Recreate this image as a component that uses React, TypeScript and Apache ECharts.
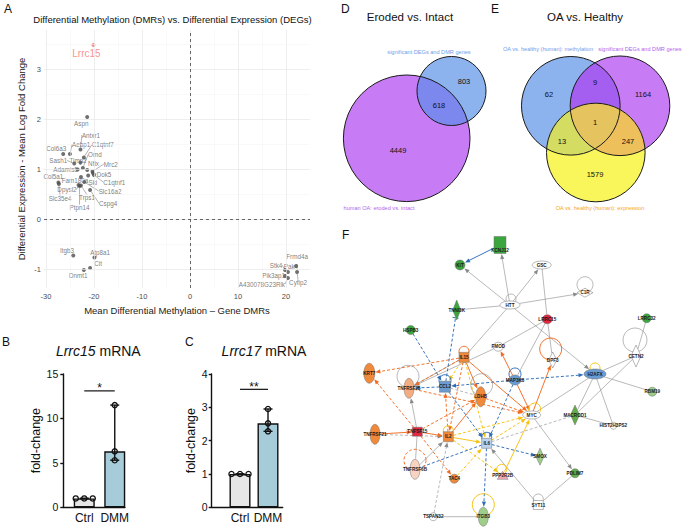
import React, { useEffect, useRef } from 'react';
import * as echarts from 'echarts';

const FONT = '"Liberation Sans", Arial, Helvetica, sans-serif';

// ================= Panel A: DMR vs DEG scatter =================
const dmrGenes = ['Lrrc15', 'Aspn', 'Antxr1', 'Aebp1', 'Col6a3', 'C1qtnf7', 'Sash1', 'Timp2', 'Omd', 'Adamts5', 'Nfix', 'Mrc2', 'Dok5', 'C1qtnf1', 'Ski', 'Col5a1', 'Fam180a', 'Dpysl2', 'Slc35e4', 'Slc16a2', 'Trps1', 'Cspg4', 'Ptpn14', 'Itgb3', 'Atp8a1', 'Cit', 'Dnmt1', 'Stk4', 'Frmd4a', 'Pak4', 'Cyfip2', 'Pik3ap1', 'A430078G23Rik'];
const dmrMeanMethylation = [-20.1, -21.4, -22.8, -25.0, -26.4, -22.1, -24.1, -22.8, -22.3, -23.4, -21.4, -20.3, -20.2, -20.0, -21.2, -27.4, -22.7, -23.2, -27.3, -22.0, -22.7, -20.8, -23.0, -24.3, -19.9, -20.8, -22.1, 19.8, 22.1, 20.4, 22.3, 19.8, 20.4];
const degMeanLogFC = [3.49, 2.05, 1.40, 1.31, 1.31, 1.24, 1.12, 1.14, 1.03, 1.00, 0.99, 0.96, 0.93, 0.89, 0.88, 0.74, 0.85, 0.69, 0.71, 0.75, 0.68, 0.59, 0.67, -0.72, -0.76, -0.97, -1.01, -1.01, -0.93, -1.05, -1.05, -1.13, -1.17];
const highlightedGene = 'Lrrc15';
const xTicksA = [-30, -20, -10, 0, 10, 20];
const yTicksA = [-1, 0, 1, 2, 3];
const xMinorA = [-25, -15, -5, 5, 15];
const yMinorA = [-0.5, 0.5, 1.5, 2.5, 3.5];
// label displacement (repel-like layout, in px)
const labelShiftA = [[-7, 8], [-6, 6], [10.5, -14.5], [11.3, -9.7], [-7, -5.5], [19, -12.8], [-16, -3], [-2.5, -2.5], [12, -13.3], [-12, 0], [6.3, -6.7], [18.3, -7.5], [11, 1], [20.3, 7], [4.7, 6.5], [-5, -6.5], [-6, 3.5], [-11.6, 4.5], [1.2, 14.7], [25.7, 9], [6, 12.2], [18, 13.3], [0, 21.7], [-6.3, -4.6], [5.7, -5], [8, -4.4], [-5.7, 5], [-9, -4.7], [1, -9.3], [3, -5.3], [1, 10.7], [-11.3, -1], [-26, 6]];

// ================= Panels B, C: qPCR =================
const qpcrGroups = ['Ctrl', 'DMM'];
const lrrc15Ctrl = [1.0, 1.0, 1.0];
const lrrc15DMM = [11.5, 6.3, 5.3];
const lrrc15SigMark = '*';
const lrrc15SigLevel = 13.1;
const lrrc17Ctrl = [1.0, 1.0, 1.0];
const lrrc17DMM = [2.95, 2.52, 2.28];
const lrrc17SigMark = '**';
const lrrc17SigLevel = 3.54;

// ================= Panel D: Venn =================
const vennDSets = ['human OA: eroded vs. intact', 'significant DEGs and DMR genes'];
const vennDRegions = [[0], [1], [0, 1]];
const vennDCounts = [4449, 803, 618];
// layout
const vennDCircles = [[76.7, 108.3, 63.3], [121.5, 61, 34.5]];
const vennDCountPos = [[68, 120], [134, 51], [109, 75]];
const vennDSetPos = [[49, 178], [99, 22]];

// ================= Panel E: Venn =================
const vennESets = ['OA vs. healthy (human): methylation', 'significant DEGs and DMR genes', 'OA vs. healthy (human): expression'];
const vennERegions = [[0], [1], [2], [0, 1], [0, 2], [1, 2], [0, 1, 2]];
const vennECounts = [62, 1164, 1579, 9, 13, 247, 1];
const vennECircles = [[70.8, 75.8, 49.3], [120, 75.8, 49.8], [95.8, 122.5, 49.3]];
const vennECountPos = [[49, 64], [143, 64], [95, 144], [95, 52], [62, 111], [128, 111], [95, 92]];
const vennESetPos = [[48, 19], [140, 19], [100, 178]];

// ================= Panel F: network =================
const netNodes = ['KCNJ12', 'KIT', 'GSC', 'C1R', 'HTT', 'TNNI3K', 'LRRC15', 'LRRC32', 'HSPB3', 'FMOD', 'IL15', 'CETN2', 'DPF3', 'KRT7', 'H2AFX', 'MAP3K8', 'TNFRSF25', 'CCL2', 'LDHB', 'RBM19', 'MYC', 'MACROD1', 'HIST2H3PS2', 'TNFRSF21', 'TNFSF15', 'IL2', 'IL6', 'SMOX', 'PDLIM7', 'TNFRSF6B', 'TAC4', 'PPP2R2B', 'SYT11', 'TSPAN32', 'ITGB3'];
const netNodeX = [170, 130, 211.7, 255, 180, 126.7, 217.3, 316.7, 80.7, 168.3, 134, 306, 222.7, 39.3, 265, 185, 79, 115, 150.7, 322.3, 201.7, 245, 283.3, 45, 87.3, 118.3, 156.7, 210, 245, 85, 124.3, 172.7, 208.3, 103.3, 153.3];
const netNodeY = [13, 33, 33, 60.7, 73, 78, 87.3, 86.3, 98, 114.7, 125.3, 124, 128, 141.3, 142, 148, 156.3, 154.7, 164.7, 159.7, 183, 183, 193.7, 202.3, 199.7, 204.7, 211.3, 224.7, 241.3, 237.3, 246.7, 243.3, 273, 284.7, 284.7];
const netNodeShape = ['rect', 'ellipse', 'ellipse', 'diamond', 'ellipse', 'diamond', 'ellipse', 'ellipse', 'ellipse', 'ellipse', 'rect', 'diamond', 'diamond', 'ellipse', 'ellipse', 'ellipse', 'ellipse', 'rect', 'ellipse', 'ellipse', 'ellipse', 'diamond', 'ellipse', 'ellipse', 'rect', 'rect', 'rect', 'diamond', 'ellipse', 'ellipse', 'ellipse', 'triangle', 'rect', 'ellipse', 'ellipse'];
const netNodeTone = ['green', 'green', 'none', 'none', 'none', 'green', 'red', 'green', 'green', 'none', 'orange', 'none', 'none', 'orange', 'blue', 'blue', 'lorange', 'blue', 'orange', 'lgreen', 'none', 'mgreen', 'none', 'orange', 'red', 'orange', 'lblue', 'lgreen', 'mgreen', 'peach', 'orange', 'pink', 'none', 'none', 'lgreen'];
const netNodeW = [12, 10, 19, 16, 20, 8, 10, 9, 9, 10, 10, 10, 8, 11, 22, 12, 10, 11, 10, 9, 18, 9, 7, 10, 10, 10, 10, 8, 9, 10, 9, 11, 10, 8, 10];
const netNodeH = [17, 10, 8, 9, 8, 20, 9, 9, 9, 9, 10, 22, 16, 20, 10, 10, 20, 11, 20, 9, 8, 20, 7, 20, 9, 10, 10, 17, 9, 20, 9, 8, 9, 8, 19];
const netEdges = [
  ['KCNJ12', 'KIT', 'blue', 0, 'arrow'], ['HTT', 'KCNJ12', 'gray', 0, 'arrow'], ['HTT', 'KIT', 'gray', 0, 'arrow'],
  ['HTT', 'GSC', 'gray', 0, 'arrow'], ['HTT', 'C1R', 'gray', 0, 'arrow'], ['HTT', 'TNNI3K', 'gray', 0, 'none'],
  ['HTT', 'IL15', 'gray', 0, 'none'], ['HTT', 'H2AFX', 'gray', 0, 'arrow'], ['GSC', 'LRRC15', 'gray', 0, 'none'],
  ['LRRC15', 'FMOD', 'gray', 0, 'none'], ['LRRC15', 'DPF3', 'gray', 0, 'none'], ['LRRC15', 'MAP3K8', 'gray', 0, 'none'],
  ['FMOD', 'TNFRSF25', 'gray', 0, 'arrow'], ['LRRC32', 'CETN2', 'gray', 0, 'none'], ['CETN2', 'H2AFX', 'gray', 0, 'none'],
  ['CETN2', 'MACROD1', 'gray', 0, 'none'], ['H2AFX', 'RBM19', 'gray', 0, 'none'], ['H2AFX', 'MACROD1', 'gray', 0, 'none'],
  ['H2AFX', 'HIST2H3PS2', 'gray', 0, 'none'], ['H2AFX', 'MYC', 'gray', 0, 'none'], ['MACROD1', 'HIST2H3PS2', 'gray', 0, 'none'],
  ['IL6', 'MACROD1', 'gray', 1, 'none'], ['MYC', 'PDLIM7', 'gray', 0, 'arrow'], ['PDLIM7', 'SYT11', 'gray', 0, 'none'],
  ['SYT11', 'IL6', 'gray', 0, 'arrow'], ['TSPAN32', 'ITGB3', 'gray', 0, 'none'], ['TSPAN32', 'IL2', 'gray', 1, 'arrow'],
  ['TNFRSF21', 'IL2', 'gray', 1, 'arrow'], ['TNFRSF6B', 'IL2', 'gray', 0, 'arrow'], ['TNFSF15', 'TNFRSF25', 'gray', 0, 'arrow'],
  ['TNFSF15', 'TNFRSF6B', 'gray', 0, 'none'], ['CCL2', 'LDHB', 'gray', 1, 'none'], ['TNFRSF25', 'IL15', 'gray', 0, 'none'],
  ['IL15', 'KRT7', 'orange', 1, 'arrow'], ['IL15', 'LDHB', 'orange', 0, 'arrow'], ['IL15', 'IL2', 'orange', 1, 'arrow'],
  ['IL15', 'TNFRSF25', 'orange', 1, 'arrow'], ['IL15', 'MYC', 'orange', 0, 'arrow'], ['MAP3K8', 'FMOD', 'orange', 0, 'arrow'],
  ['MAP3K8', 'MYC', 'orange', 0, 'arrow'], ['MYC', 'DPF3', 'orange', 0, 'arrow'], ['TNFSF15', 'KRT7', 'orange', 1, 'arrow'],
  ['TNFRSF21', 'TNFSF15', 'orange', 0, 'arrow'], ['TNFSF15', 'IL2', 'orange', 0, 'arrow'], ['TNFSF15', 'LDHB', 'orange', 1, 'arrow'],
  ['TNFSF15', 'TAC4', 'orange', 1, 'arrow'], ['IL2', 'LDHB', 'orange', 0, 'arrow'], ['IL2', 'CCL2', 'orange', 1, 'arrow'],
  ['TNFRSF25', 'MYC', 'orange', 1, 'arrow'], ['LDHB', 'MYC', 'orange', 1, 'arrow'], ['IL15', 'IL6', 'yellow', 1, 'arrow'],
  ['IL15', 'CCL2', 'yellow', 1, 'arrow'], ['IL2', 'IL6', 'yellow', 0, 'arrow'], ['IL6', 'MYC', 'yellow', 1, 'arrow'],
  ['IL2', 'MYC', 'yellow', 1, 'arrow'], ['TAC4', 'IL6', 'yellow', 1, 'arrow'], ['PPP2R2B', 'MYC', 'yellow', 0, 'arrow'],
  ['IL2', 'PPP2R2B', 'yellow', 1, 'arrow'], ['HSPB3', 'CCL2', 'blue', 1, 'arrow'], ['CCL2', 'TNNI3K', 'blue', 1, 'tbar'],
  ['MAP3K8', 'H2AFX', 'blue', 1, 'arrow'], ['MAP3K8', 'CCL2', 'blue', 1, 'arrow'], ['MAP3K8', 'IL6', 'blue', 1, 'arrow'],
  ['CCL2', 'IL6', 'blue', 1, 'arrow'], ['IL6', 'SMOX', 'blue', 1, 'arrow'], ['IL6', 'ITGB3', 'blue', 1, 'arrow'],
  ['IL6', 'TNFRSF6B', 'blue', 1, 'none'], ['CCL2', 'TNFRSF25', 'blue', 1, 'arrow'],
];
const netLoops = [
  ['HTT', 5, 'gray', 0, 1, -6], ['C1R', 8, 'gray', 0, 0, -8], ['IL15', 5, 'orange', 0, 0, -6], ['DPF3', 11, 'orange', 0, -2, -11],
  ['CETN2', 12, 'gray', 0, -1, -16], ['H2AFX', 5, 'yellow', 0, 0, -6], ['MAP3K8', 6, 'blue', 0, 0, -6], ['TNFRSF25', 11, 'gray', 0, -1, -12],
  ['CCL2', 6, 'blue', 0, 0, -6], ['LDHB', 11, 'gray', 0, 1, -12], ['MYC', 6, 'yellow', 0, 3, -6], ['IL2', 5, 'yellow', 0, 0, -6],
  ['IL6', 5, 'blue', 0, 0, -6], ['TNFRSF6B', 11, 'orange', 1, 0, -9], ['PPP2R2B', 5, 'yellow', 0, -1, -6], ['SYT11', 5, 'gray', 0, 0, -6],
  ['ITGB3', 11, 'yellow', 0, 0, -12],
];

// ================= styles =================
const TONE: Record<string, string> = {
  none: '#ffffff', green: '#3aa63d', mgreen: '#62ad48', lgreen: '#9fcd8a', red: '#e4283f', orange: '#f08a3a',
  lorange: '#f4ad80', peach: '#f8d3c2', blue: '#6a9bd1', lblue: '#bcd5ec', pink: '#f3a8b4',
};
const EDGE: Record<string, string> = { gray: '#8a8a8a', orange: '#f26b21', yellow: '#f5c20f', blue: '#2f6db6' };

function median(a: number[]) {
  const s = [...a].sort((x, y) => x - y);
  const m = Math.floor(s.length / 2);
  return s.length % 2 ? s[m] : (s[m - 1] + s[m]) / 2;
}
function dotOffsets(vals: number[], step: number) {
  return vals.map((v, i) => {
    const same = vals.filter((w) => w === v).length;
    const k = vals.slice(0, i).filter((w) => w === v).length;
    return (k - (same - 1) / 2) * step;
  });
}
function intersectionPolygon(cs: number[][]) {
  const pts: number[][] = [];
  const N = 720;
  for (let i = 0; i < cs.length; i++) {
    const [cx, cy, r] = cs[i];
    for (let k = 0; k < N; k++) {
      const t = (k / N) * Math.PI * 2;
      const px = cx + r * Math.cos(t);
      const py = cy + r * Math.sin(t);
      let ok = true;
      for (let j = 0; j < cs.length; j++) {
        if (j === i) continue;
        const [ox, oy, orr] = cs[j];
        if ((px - ox) ** 2 + (py - oy) ** 2 > orr * orr) { ok = false; break; }
      }
      if (ok) pts.push([px, py]);
    }
  }
  if (!pts.length) return pts;
  const mx = pts.reduce((s, p) => s + p[0], 0) / pts.length;
  const my = pts.reduce((s, p) => s + p[1], 0) / pts.length;
  pts.sort((a, b) => Math.atan2(a[1] - my, a[0] - mx) - Math.atan2(b[1] - my, b[0] - mx));
  return pts;
}
function boundaryDist(shape: string, w: number, h: number, ux: number, uy: number) {
  const rx = w / 2, ry = h / 2;
  const ax = Math.abs(ux), ay = Math.abs(uy);
  if (shape === 'rect') return Math.min(ax > 1e-6 ? rx / ax : 1e9, ay > 1e-6 ? ry / ay : 1e9);
  if (shape === 'diamond') return 1 / (ax / rx + ay / ry);
  return 1 / Math.sqrt((ax / rx) ** 2 + (ay / ry) ** 2);
}
function nodeGraphic(shape: string, x: number, y: number, w: number, h: number, fill: string) {
  const style = { fill, stroke: '#707070', lineWidth: 0.5 };
  if (shape === 'rect') return { type: 'rect', shape: { x: x - w / 2, y: y - h / 2, width: w, height: h }, style };
  if (shape === 'diamond') return { type: 'polygon', shape: { points: [[x, y - h / 2], [x + w / 2, y], [x, y + h / 2], [x - w / 2, y]] }, style };
  if (shape === 'triangle') return { type: 'polygon', shape: { points: [[x, y - h / 2], [x + w / 2, y + h / 2], [x - w / 2, y + h / 2]] }, style };
  return { type: 'ellipse', shape: { cx: x, cy: y, rx: w / 2, ry: h / 2 }, style };
}

function qpcrSeries(axis: number, ctrl: number[], dmm: number[], sigMark: string, sigLevel: number) {
  const groups = [ctrl, dmm];
  const fills = ['#e6e6e6', '#a7ccd9'];
  const dots: number[][] = [];
  groups.forEach((g, gi) => {
    const offs = dotOffsets(g, 8.5);
    g.forEach((v, i) => dots.push([gi, v, offs[i]]));
  });
  const black = '#111';
  return [
    {
      type: 'bar', xAxisIndex: axis, yAxisIndex: axis, barWidth: 21, silent: true, z: 2,
      data: groups.map((g, i) => ({ value: median(g), itemStyle: { color: fills[i], borderColor: black, borderWidth: 1.4 } })),
    },
    {
      type: 'custom', xAxisIndex: axis, yAxisIndex: axis, silent: true, z: 3,
      data: groups.map((g, i) => [i, Math.min(...g), Math.max(...g)]),
      renderItem: (_p: any, api: any) => {
        const lo = api.coord([api.value(0), api.value(1)]);
        const hi = api.coord([api.value(0), api.value(2)]);
        const cap = 4.5;
        const st = { stroke: black, lineWidth: 1.4 };
        return {
          type: 'group', children: [
            { type: 'line', shape: { x1: lo[0], y1: lo[1], x2: hi[0], y2: hi[1] }, style: st },
            { type: 'line', shape: { x1: lo[0] - cap, y1: lo[1], x2: lo[0] + cap, y2: lo[1] }, style: st },
            { type: 'line', shape: { x1: hi[0] - cap, y1: hi[1], x2: hi[0] + cap, y2: hi[1] }, style: st },
          ],
        };
      },
    },
    {
      type: 'custom', xAxisIndex: axis, yAxisIndex: axis, silent: true, z: 4,
      data: dots,
      renderItem: (_p: any, api: any) => {
        const c = api.coord([api.value(0), api.value(1)]);
        return { type: 'circle', shape: { cx: c[0] + api.value(2), cy: c[1], r: 2.6 }, style: { fill: 'rgba(255,255,255,0)', stroke: black, lineWidth: 1.3 } };
      },
    },
    {
      type: 'custom', xAxisIndex: axis, yAxisIndex: axis, silent: true, z: 4,
      data: [[0, sigLevel]],
      renderItem: (_p: any, api: any) => {
        const a = api.coord([0, api.value(1)]);
        const b = api.coord([1, api.value(1)]);
        return {
          type: 'group', children: [
            { type: 'line', shape: { x1: a[0], y1: a[1], x2: b[0], y2: b[1] }, style: { stroke: black, lineWidth: 1.2 } },
            { type: 'text', style: { text: sigMark, x: (a[0] + b[0]) / 2, y: a[1] - 2.5, align: 'center', verticalAlign: 'middle', fontSize: 12, fontFamily: FONT, fill: black } },
          ],
        };
      },
    },
  ];
}

function vennSeries(axis: number, circles: number[][], regions: number[][], colors: string[], counts: number[], countPos: number[][], sets: string[], setPos: number[][], setColors: string[]) {
  const toPx = (api: any, c: number[]) => {
    const p = api.coord([c[0], c[1]]);
    const s = api.size([c[2], 0])[0];
    return [p[0], p[1], s];
  };
  return [
    {
      type: 'custom', xAxisIndex: axis, yAxisIndex: axis, silent: true, z: 2,
      data: regions.map(() => [0, 0]),
      renderItem: (p: any, api: any) => {
        const reg = regions[p.dataIndex];
        const cs = reg.map((k) => toPx(api, circles[k]));
        if (cs.length === 1) return { type: 'circle', shape: { cx: cs[0][0], cy: cs[0][1], r: cs[0][2] }, style: { fill: colors[p.dataIndex] } };
        return { type: 'polygon', shape: { points: intersectionPolygon(cs) }, style: { fill: colors[p.dataIndex] } };
      },
    },
    {
      type: 'custom', xAxisIndex: axis, yAxisIndex: axis, silent: true, z: 3,
      data: circles.map((c) => [c[0], c[1]]),
      renderItem: (p: any, api: any) => {
        const c = toPx(api, circles[p.dataIndex]);
        return { type: 'circle', shape: { cx: c[0], cy: c[1], r: c[2] }, style: { fill: 'none', stroke: '#1a1a1a', lineWidth: 1 } };
      },
    },
    {
      type: 'custom', xAxisIndex: axis, yAxisIndex: axis, silent: true, z: 4,
      data: countPos.map((q) => [q[0], q[1]]),
      renderItem: (p: any, api: any) => {
        const c = api.coord([api.value(0), api.value(1)]);
        return { type: 'text', style: { text: String(counts[p.dataIndex]), x: c[0], y: c[1], align: 'center', verticalAlign: 'middle', fontSize: 7.5, fontFamily: FONT, fill: '#111' } };
      },
    },
    {
      type: 'custom', xAxisIndex: axis, yAxisIndex: axis, silent: true, z: 4,
      data: setPos.map((q) => [q[0], q[1]]),
      renderItem: (p: any, api: any) => {
        const c = api.coord([api.value(0), api.value(1)]);
        return { type: 'text', style: { text: sets[p.dataIndex], x: c[0], y: c[1], align: 'center', verticalAlign: 'middle', fontSize: 5.6, fontFamily: FONT, fill: setColors[p.dataIndex] } };
      },
    },
  ];
}

function buildOption() {
  const idx = (n: string) => netNodes.indexOf(n);
  const tickStyle = { color: '#4d4d4d', fontSize: 7.5, fontFamily: FONT };

  const scatterData = dmrGenes.map((g, i) => {
    const hl = g === highlightedGene;
    const sh = labelShiftA[i];
    const far = Math.hypot(sh[0], sh[1]) > 10;
    return {
      name: g,
      value: [dmrMeanMethylation[i], degMeanLogFC[i]],
      itemStyle: { color: hl ? '#f8766d' : '#4d4d4d' },
      label: hl ? { fontSize: 10, color: '#f8766d' } : undefined,
      labelLine: { show: far && !hl },
    };
  });

  const gridLines: any[] = [];
  xTicksA.forEach((v) => gridLines.push({ xAxis: v, lineStyle: { color: '#e6e6e6', width: 0.7, type: 'solid' } }));
  xMinorA.forEach((v) => gridLines.push({ xAxis: v, lineStyle: { color: '#f2f2f2', width: 0.5, type: 'solid' } }));
  yTicksA.forEach((v) => gridLines.push({ yAxis: v, lineStyle: { color: '#e6e6e6', width: 0.7, type: 'solid' } }));
  yMinorA.forEach((v) => gridLines.push({ yAxis: v, lineStyle: { color: '#f2f2f2', width: 0.5, type: 'solid' } }));
  const zeroLines = [
    { xAxis: 0, lineStyle: { color: '#555', width: 0.9, type: [3, 3] } },
    { yAxis: 0, lineStyle: { color: '#555', width: 0.9, type: [3, 3] } },
  ];

  const letter = (t: string, left: number, top: number) => ({ text: t, left, top, padding: 0, textStyle: { fontSize: 12, fontWeight: 'normal', color: '#111', fontFamily: FONT } });
  const centered = (t: string, left: number, top: number, size: number) => ({
    text: t, left, top, padding: 0, textAlign: 'center',
    textStyle: { fontSize: size, fontWeight: 'normal', color: '#111', fontFamily: FONT, rich: { i: { fontStyle: 'italic', fontSize: size, color: '#111', fontFamily: FONT } } },
  });

  const frameX = (g: number) => ({ type: 'value', gridIndex: g, min: 0, max: 1, axisLine: { show: true, lineStyle: { color: '#111', width: 1.4 } }, axisTick: { show: false }, axisLabel: { show: false }, splitLine: { show: false } });
  const frameY = (g: number, max: number, interval: number, gap: number, margin: number) => ({
    type: 'value', gridIndex: g, min: 0, max, interval,
    axisLine: { show: true, lineStyle: { color: '#111', width: 1.4 } },
    axisTick: { show: true, length: 3, lineStyle: { color: '#111', width: 1.4 } },
    axisLabel: { fontSize: 10.5, color: '#111', margin, fontFamily: FONT },
    splitLine: { show: false },
    name: 'fold-change', nameLocation: 'middle', nameGap: gap,
    nameTextStyle: { fontSize: 12.5, color: '#111', fontFamily: FONT },
  });
  const barsX = (g: number) => ({ type: 'category', gridIndex: g, data: qpcrGroups, axisLine: { show: false }, axisTick: { show: false }, axisLabel: { interval: 0, hideOverlap: false, fontSize: 12, color: '#111', margin: 5, fontFamily: FONT } });
  const hiddenY = (g: number, max: number, inverse = false) => ({ type: 'value', gridIndex: g, min: 0, max, inverse, show: false });
  const hiddenX = (g: number, max: number) => ({ type: 'value', gridIndex: g, min: 0, max, show: false });

  const netNodeData = netNodes.map((_, i) => [netNodeX[i], netNodeY[i]]);
  const netEdgeData = netEdges.map((e) => [netNodeX[idx(e[0] as string)], netNodeY[idx(e[0] as string)], netNodeX[idx(e[1] as string)], netNodeY[idx(e[1] as string)]]);
  const netLoopData = netLoops.map((l) => [netNodeX[idx(l[0] as string)], netNodeY[idx(l[0] as string)]]);

  return {
    animation: false,
    backgroundColor: '#ffffff',
    textStyle: { fontFamily: FONT },
    title: [
      letter('A', 4, 3),
      centered('Differential Methylation (DMRs) vs. Differential Expression (DEGs)', 172.5, 14, 9.5),
      letter('B', 2, 336),
      centered('{i|Lrrc15} mRNA', 98.3, 344, 14),
      letter('C', 185, 336),
      centered('{i|Lrrc17} mRNA', 264, 344, 14),
      letter('D', 341, 3),
      centered('Eroded vs. Intact', 410, 11, 11.5),
      letter('E', 491, 3),
      centered('OA vs. Healthy', 585, 11, 11.5),
      letter('F', 342, 229),
    ],
    grid: [
      { left: 44, top: 30, width: 266, height: 258 },
      { left: 63.3, top: 374, width: 61.7, height: 133.3 },
      { left: 69, top: 374, width: 61, height: 133.3 },
      { left: 211.7, top: 374, width: 71, height: 133.3 },
      { left: 226, top: 374, width: 56, height: 133.3 },
      { left: 330, top: 30, width: 170, height: 190 },
      { left: 500, top: 30, width: 185, height: 190 },
      { left: 330, top: 232, width: 355, height: 298 },
    ],
    xAxis: [
      {
        type: 'value', gridIndex: 0, min: -30.4, max: 25,
        axisLine: { show: false }, axisTick: { show: false }, splitLine: { show: false },
        axisLabel: { ...tickStyle, margin: 4, customValues: xTicksA },
        name: 'Mean Differential Methylation – Gene DMRs', nameLocation: 'middle', nameGap: 17,
        nameTextStyle: { fontSize: 9.5, color: '#1a1a1a', fontFamily: FONT },
      },
      frameX(1), barsX(2), frameX(3), barsX(4), hiddenX(5, 170), hiddenX(6, 185), hiddenX(7, 355),
    ],
    yAxis: [
      {
        type: 'value', gridIndex: 0, min: -1.37, max: 3.79,
        axisLine: { show: false }, axisTick: { show: false }, splitLine: { show: false },
        axisLabel: { ...tickStyle, margin: 3, customValues: yTicksA },
        name: 'Differential Expression - Mean Log Fold Change', nameLocation: 'middle', nameGap: 18,
        nameTextStyle: { fontSize: 9.5, color: '#1a1a1a', fontFamily: FONT },
      },
      frameY(1, 15, 5, 14, 5), hiddenY(2, 15), frameY(3, 4, 1, 5, 4), hiddenY(4, 4),
      hiddenY(5, 190, true), hiddenY(6, 190, true), hiddenY(7, 298, true),
    ],
    series: [
      {
        type: 'scatter', xAxisIndex: 0, yAxisIndex: 0, data: [], silent: true, z: 0,
        markLine: { silent: true, symbol: ['none', 'none'], label: { show: false }, animation: false, data: gridLines },
      },
      {
        type: 'scatter', xAxisIndex: 0, yAxisIndex: 0, data: [], silent: true, z: 1,
        markLine: { silent: true, symbol: ['none', 'none'], label: { show: false }, animation: false, data: zeroLines },
      },
      {
        type: 'scatter', xAxisIndex: 0, yAxisIndex: 0, symbolSize: 4, silent: true, z: 3,
        data: scatterData,
        label: { show: true, position: 'inside', formatter: '{b}', fontSize: 6.3, color: '#5a5a5a', fontFamily: FONT },
        labelLine: { show: false, lineStyle: { color: '#666', width: 0.5 } },
        labelLayout: (p: any) => ({ dx: labelShiftA[p.dataIndex][0], dy: labelShiftA[p.dataIndex][1] }),
      },
      ...qpcrSeries(2, lrrc15Ctrl, lrrc15DMM, lrrc15SigMark, lrrc15SigLevel),
      ...qpcrSeries(4, lrrc17Ctrl, lrrc17DMM, lrrc17SigMark, lrrc17SigLevel),
      ...vennSeries(5, vennDCircles, vennDRegions, ['#c77cf6', '#8db3ef', '#7d88ee'], vennDCounts, vennDCountPos, vennDSets, vennDSetPos, ['#b463ec', '#6d9eeb']),
      ...vennSeries(6, vennECircles, vennERegions, ['#8db3ef', '#c77cf6', '#f8f65a', '#a45ef0', '#d5dc62', '#edc05c', '#e5c35f'], vennECounts, vennECountPos, vennESets, vennESetPos, ['#6d9eeb', '#b463ec', '#f5a623']),
      {
        type: 'custom', xAxisIndex: 7, yAxisIndex: 7, silent: true, z: 2,
        data: netEdgeData,
        renderItem: (p: any, api: any) => {
          const e = netEdges[p.dataIndex];
          const si = idx(e[0] as string), ti = idx(e[1] as string);
          const s = api.coord([api.value(0), api.value(1)]);
          const t = api.coord([api.value(2), api.value(3)]);
          const dx = t[0] - s[0], dy = t[1] - s[1];
          const L = Math.hypot(dx, dy) || 1;
          const ux = dx / L, uy = dy / L;
          const ds = boundaryDist(netNodeShape[si], netNodeW[si], netNodeH[si], ux, uy);
          const dt = boundaryDist(netNodeShape[ti], netNodeW[ti], netNodeH[ti], ux, uy);
          const x1 = s[0] + ux * ds, y1 = s[1] + uy * ds;
          const x2 = t[0] - ux * (dt + 0.6), y2 = t[1] - uy * (dt + 0.6);
          const color = EDGE[e[2] as string];
          const lw = e[2] === 'gray' ? 0.6 : 0.95;
          const end = e[4];
          const back = end === 'arrow' ? 3 : 0;
          const children: any[] = [
            { type: 'line', shape: { x1, y1, x2: x2 - ux * back, y2: y2 - uy * back }, style: { stroke: color, lineWidth: lw, lineDash: e[3] ? [3, 2] : null } },
          ];
          if (end === 'arrow') {
            children.push({ type: 'polygon', shape: { points: [[x2, y2], [x2 - ux * 5 - uy * 2.1, y2 - uy * 5 + ux * 2.1], [x2 - ux * 5 + uy * 2.1, y2 - uy * 5 - ux * 2.1]] }, style: { fill: color } });
          } else if (end === 'tbar') {
            children.push({ type: 'line', shape: { x1: x2 - uy * 3, y1: y2 + ux * 3, x2: x2 + uy * 3, y2: y2 - ux * 3 }, style: { stroke: color, lineWidth: 1 } });
          }
          return { type: 'group', children };
        },
      },
      {
        type: 'custom', xAxisIndex: 7, yAxisIndex: 7, silent: true, z: 3,
        data: netLoopData,
        renderItem: (p: any, api: any) => {
          const l = netLoops[p.dataIndex];
          const c = api.coord([api.value(0), api.value(1)]);
          return { type: 'circle', shape: { cx: c[0] + (l[4] as number), cy: c[1] + (l[5] as number), r: l[1] as number }, style: { fill: 'none', stroke: EDGE[l[2] as string], lineWidth: l[2] === 'gray' ? 0.6 : 0.95, lineDash: l[3] ? [3, 2] : null } };
        },
      },
      {
        type: 'custom', xAxisIndex: 7, yAxisIndex: 7, silent: true, z: 4,
        data: netNodeData,
        renderItem: (p: any, api: any) => {
          const i = p.dataIndex;
          const c = api.coord([api.value(0), api.value(1)]);
          const w = netNodeW[i], h = netNodeH[i];
          const ly = netNodes[i] === 'KCNJ12' ? c[1] + 5 : c[1];
          return {
            type: 'group', children: [
              nodeGraphic(netNodeShape[i], c[0], c[1], w, h, TONE[netNodeTone[i]]),
              { type: 'text', style: { text: netNodes[i], x: c[0], y: ly, align: 'center', verticalAlign: 'middle', fontSize: 4.6, fontWeight: 'bold', fontFamily: FONT, fill: '#1a1a1a' } },
            ],
          };
        },
      },
    ],
  };
}

export default function App() {
  const ref = useRef<HTMLDivElement>(null);
  useEffect(() => {
    if (!ref.current) return;
    const chart = echarts.init(ref.current, null, { renderer: 'svg' });
    chart.setOption(buildOption() as any);
    return () => chart.dispose();
  }, []);
  return <div ref={ref} style={{ position: 'absolute', left: 0, top: 0, width: 685, height: 530, background: '#fff' }} />;
}
